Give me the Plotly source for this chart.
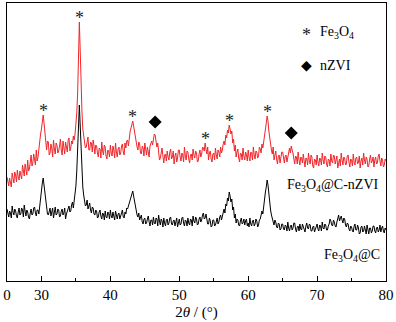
import numpy as np
import plotly.graph_objects as go

STEP = 0.125
# 2θ grid (degrees)
two_theta = np.round(np.arange(25.0, 80.0001, STEP), 3)

# Fe3O4@C-nZVI (red), arbitrary intensity units (one row = 5°)
red_intensity = [
    104, 98, 95, 103, 99, 94, 108, 100, 98, 109, 106, 99, 111, 104, 101, 110, 107, 102, 116, 108,
    105, 117, 113, 106, 121, 110, 112, 122, 126, 115, 118, 127, 122, 116, 131, 120, 124, 133, 140, 147,
    152, 160, 166, 158, 148, 138, 131, 140, 139, 126, 128, 137, 133, 124, 141, 132, 127, 138, 136, 128,
    130, 135, 142, 131, 126, 140, 134, 127, 139, 132, 129, 141, 143, 130, 133, 140, 137, 145, 141, 147,
    155, 168, 188, 225, 259, 230, 192, 170, 152, 146, 140, 133, 134, 141, 144, 131, 131, 139, 138, 129,
    141, 135, 127, 136, 135, 128, 124, 133, 132, 123, 139, 130, 126, 136, 134, 125, 122, 131, 130, 124,
    136, 128, 125, 135, 131, 123, 138, 129, 124, 132, 134, 126, 128, 135, 137, 129, 126, 138, 133, 140,
    141, 135, 146, 150, 153, 156, 160, 155, 149, 143, 140, 134, 131, 139, 137, 128, 127, 135, 133, 125,
    138, 129, 126, 134, 130, 124, 135, 138, 140, 136, 142, 147, 146, 140, 134, 138, 128, 121, 123, 130,
    133, 125, 118, 126, 127, 120, 130, 124, 121, 129, 132, 122, 124, 130, 117, 125, 128, 119, 123, 131,
    131, 124, 120, 128, 126, 119, 134, 125, 121, 130, 129, 122, 118, 126, 127, 121, 132, 126, 123, 130,
    128, 119, 120, 127, 131, 124, 127, 134, 133, 130, 138, 132, 127, 134, 121, 128, 130, 122, 119, 127,
    128, 121, 133, 126, 122, 131, 129, 124, 134, 128, 131, 137, 140, 136, 146, 143, 151, 148, 156, 152,
    147, 150, 138, 142, 130, 136, 124, 129, 132, 123, 119, 128, 127, 121, 133, 125, 121, 129, 126, 120,
    131, 124, 120, 129, 128, 121, 134, 126, 122, 130, 129, 123, 125, 134, 132, 128, 137, 133, 141, 147,
    153, 158, 165, 160, 150, 142, 136, 131, 127, 134, 121, 128, 130, 122, 117, 125, 126, 118, 123, 129,
    129, 122, 118, 125, 126, 119, 123, 130, 133, 128, 135, 131, 128, 122, 117, 125, 124, 117, 129, 121,
    116, 124, 123, 118, 127, 120, 114, 123, 122, 116, 128, 120, 117, 126, 124, 115, 113, 122, 121, 116,
    126, 119, 115, 123, 122, 116, 128, 121, 117, 125, 124, 117, 114, 122, 121, 115, 127, 120, 118, 126,
    125, 117, 120, 125, 113, 121, 122, 115, 128, 121, 116, 124, 123, 116, 117, 125, 126, 119, 114, 122,
    121, 115, 127, 119, 116, 123, 124, 117, 119, 125, 113, 120, 123, 116, 128, 121, 117, 124, 122, 114,
    115, 122, 126, 118, 120, 124, 114, 121, 124, 117, 118, 125, 127, 120, 115, 123, 121, 114, 116, 122,
    120,
]

# Fe3O4@C (black)
black_intensity = [
    72, 67, 64, 70, 68, 63, 75, 69, 66, 72, 70, 65, 63, 69, 73, 66, 67, 73, 71, 64,
    76, 70, 65, 71, 69, 64, 62, 68, 72, 66, 67, 73, 74, 68, 65, 71, 71, 67, 76, 81,
    88, 98, 103, 95, 84, 76, 71, 67, 66, 72, 73, 65, 69, 73, 63, 69, 74, 66, 67, 72,
    71, 64, 65, 70, 72, 66, 68, 73, 62, 67, 70, 74, 75, 69, 70, 76, 79, 73, 80, 86,
    95, 110, 132, 158, 176, 155, 130, 108, 94, 86, 80, 75, 76, 81, 72, 77, 78, 71, 68, 74,
    73, 67, 66, 71, 70, 63, 64, 69, 71, 65, 62, 68, 67, 61, 70, 64, 63, 69, 68, 62,
    71, 65, 63, 69, 66, 61, 70, 64, 62, 67, 68, 62, 65, 70, 71, 64, 63, 69, 67, 73,
    72, 75, 78, 80, 83, 87, 90, 85, 80, 74, 70, 66, 64, 68, 61, 65, 66, 59, 57, 62,
    63, 57, 58, 62, 65, 59, 55, 61, 61, 56, 64, 58, 57, 63, 62, 55, 66, 60, 56, 62,
    60, 54, 63, 58, 55, 61, 62, 56, 58, 63, 64, 57, 56, 60, 61, 55, 59, 63, 54, 59,
    62, 56, 57, 63, 64, 58, 55, 61, 60, 55, 63, 58, 56, 62, 61, 55, 65, 60, 58, 64,
    62, 56, 57, 62, 64, 59, 61, 66, 68, 62, 63, 67, 62, 57, 57, 63, 60, 54, 55, 61,
    61, 55, 56, 62, 63, 57, 59, 64, 66, 61, 64, 69, 72, 68, 77, 75, 83, 80, 89, 85,
    79, 82, 71, 74, 63, 67, 58, 62, 61, 56, 55, 60, 63, 57, 58, 62, 56, 60, 62, 55,
    58, 54, 63, 57, 55, 60, 61, 55, 57, 62, 60, 54, 56, 61, 62, 66, 70, 67, 77, 82,
    89, 94, 101, 96, 86, 78, 71, 66, 62, 58, 56, 61, 59, 54, 53, 58, 57, 51, 52, 57,
    57, 52, 51, 56, 55, 50, 59, 53, 50, 55, 56, 51, 53, 58, 58, 52, 49, 54, 55, 50,
    57, 52, 51, 57, 54, 50, 49, 55, 58, 53, 52, 57, 56, 50, 50, 54, 55, 49, 52, 56,
    57, 52, 50, 56, 55, 50, 59, 53, 52, 57, 56, 51, 51, 55, 57, 62, 60, 56, 55, 61,
    59, 55, 54, 59, 63, 66, 60, 64, 65, 61, 58, 63, 62, 56, 54, 58, 57, 52, 50, 55,
    54, 50, 49, 55, 57, 51, 51, 56, 53, 47, 48, 54, 55, 49, 50, 55, 52, 47, 56, 51,
    47, 53, 53, 48, 50, 55, 55, 50, 48, 53, 54, 49, 51, 56, 49, 53, 55, 50, 48, 53,
    51,
]

# Peak markers
fe3o4_peaks = [30.25, 35.5, 43.25, 53.75, 57.25, 62.75]
nzvi_peaks = [46.5, 66.25]

tick_vals = [25, 30, 40, 50, 60, 70, 80]
tick_text = ["0", "30", "40", "50", "60", "70", "80"]
minor_vals = [35, 45, 55, 65, 75]

RED = "#f0262a"
FONT = "Liberation Serif, Times New Roman, serif"


def val_at(arr, x):
    i = int(round((x - 25.0) / STEP))
    return arr[i]


fig = go.Figure()
fig.add_trace(go.Scatter(x=two_theta, y=red_intensity, mode="lines",
                         line=dict(color=RED, width=1), name="Fe3O4@C-nZVI",
                         showlegend=False))
fig.add_trace(go.Scatter(x=two_theta, y=black_intensity, mode="lines",
                         line=dict(color="black", width=1), name="Fe3O4@C",
                         showlegend=False))

# nZVI diamond markers
fig.add_trace(go.Scatter(x=nzvi_peaks, y=[val_at(red_intensity, p) + 13 for p in nzvi_peaks],
                         mode="markers", marker=dict(symbol="diamond", size=10, color="black"),
                         showlegend=False))

ann = []
for p in fe3o4_peaks:
    ann.append(dict(x=p, y=val_at(red_intensity, p), xref="x", yref="y",
                    text="*", showarrow=False, yanchor="bottom", yshift=-8,
                    font=dict(family=FONT, size=18, color="#222222")))

# legend
ann.append(dict(x=68.5, y=249, text="*", showarrow=False, xanchor="center", yanchor="middle",
                font=dict(family=FONT, size=18, color="#222222"), yshift=-3))
ann.append(dict(x=70.2, y=249, text="Fe<sub>3</sub>O<sub>4</sub>", showarrow=False,
                xanchor="left", yanchor="middle", font=dict(family=FONT, size=14, color="black")))
ann.append(dict(x=68.5, y=216, text="◆", showarrow=False, xanchor="center", yanchor="middle",
                font=dict(family="DejaVu Sans", size=14, color="black")))
ann.append(dict(x=70.1, y=216, text="nZVI", showarrow=False,
                xanchor="left", yanchor="middle", font=dict(family=FONT, size=14, color="black")))

# curve labels
ann.append(dict(x=72.3, y=96, text="Fe<sub>3</sub>O<sub>4</sub>@C-nZVI", showarrow=False,
                xanchor="center", yanchor="middle", font=dict(family=FONT, size=14, color="black")))
ann.append(dict(x=75.1, y=26, text="Fe<sub>3</sub>O<sub>4</sub>@C", showarrow=False,
                xanchor="center", yanchor="middle", font=dict(family=FONT, size=14, color="black")))

fig.update_layout(
    width=396, height=322,
    margin=dict(l=7, r=10, t=3, b=41, autoexpand=False),
    paper_bgcolor="white", plot_bgcolor="white",
    font=dict(family=FONT, size=15, color="black"),
    annotations=ann,
    hovermode=False,
    xaxis=dict(range=[25, 80], tickmode="array", tickvals=tick_vals, ticktext=tick_text,
               ticks="inside", ticklen=5, tickwidth=1, tickcolor="black",
               minor=dict(tickmode="array", tickvals=minor_vals, ticks="inside", ticklen=3,
                          tickwidth=1, tickcolor="black"),
               showline=True, linecolor="black", linewidth=1, mirror=True,
               showgrid=False, zeroline=False, automargin=False,
               tickfont=dict(family=FONT, size=15, color="black"),
               title=dict(text="2<i>θ</i> / (°)", font=dict(family=FONT, size=15, color="black"),
                          standoff=4)),
    yaxis=dict(range=[0, 278], showticklabels=False, ticks="", showgrid=False, zeroline=False,
               showline=True, linecolor="black", linewidth=1, mirror=True, automargin=False),
)

fig.write_html("out.html", config={"displayModeBar": False},
               post_script="document.body.style.margin='0';")
